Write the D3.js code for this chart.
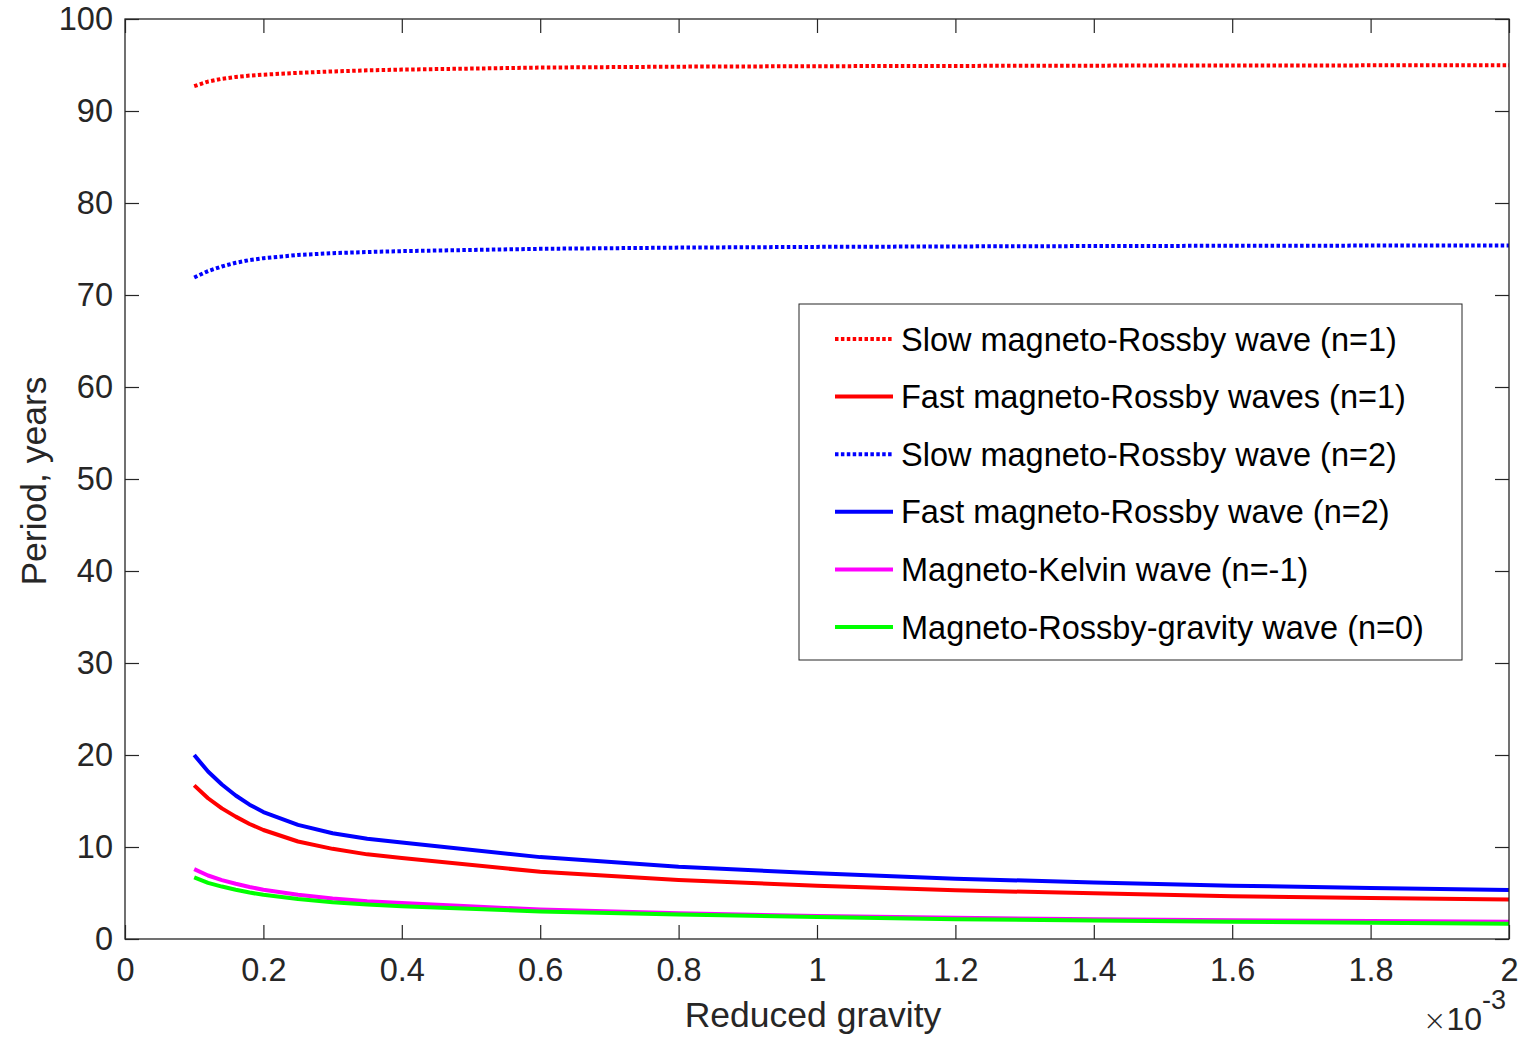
<!DOCTYPE html>
<html>
<head>
<meta charset="utf-8">
<script src="https://cdn.jsdelivr.net/npm/d3@7"></script>
<style>
  body { margin: 0; background: #fff; }
  svg { font-family: "Liberation Sans", Arial, Helvetica, sans-serif; }
</style>
</head>
<body>
<svg id="chart" width="1525" height="1038"></svg>
<script>
// reduced gravity, in units of 1e-3
const gravity = [0.10, 0.12, 0.14, 0.16, 0.18, 0.20, 0.25, 0.30, 0.35, 0.40,
                 0.6, 0.8, 1.0, 1.2, 1.4, 1.6, 1.8, 2.0];
// periods in years
const slowN1 = [92.7, 93.2, 93.5, 93.7, 93.85, 93.95, 94.15, 94.3, 94.42, 94.5,
                94.72, 94.82, 94.87, 94.9, 94.93, 94.95, 94.96, 94.97];
const fastN1 = [16.7, 15.3, 14.2, 13.3, 12.5, 11.85, 10.6, 9.8, 9.2, 8.8,
                7.3, 6.4, 5.8, 5.3, 4.96, 4.65, 4.45, 4.28];
const slowN2 = [71.9, 72.6, 73.1, 73.5, 73.8, 74.0, 74.35, 74.55, 74.67, 74.77,
                75.02, 75.15, 75.23, 75.28, 75.32, 75.35, 75.37, 75.38];
const fastN2 = [20.0, 18.2, 16.8, 15.6, 14.6, 13.8, 12.4, 11.5, 10.9, 10.5,
                8.9, 7.85, 7.15, 6.55, 6.15, 5.8, 5.55, 5.33];
const kelvin = [7.6, 6.9, 6.4, 6.0, 5.65, 5.35, 4.8, 4.4, 4.1, 3.9,
                3.2, 2.8, 2.5, 2.3, 2.15, 2.05, 1.95, 1.88];
const mrg = [6.7, 6.1, 5.7, 5.35, 5.05, 4.8, 4.35, 4.0, 3.75, 3.55,
             3.0, 2.65, 2.4, 2.15, 2.0, 1.88, 1.77, 1.67];

const seriesNames = ["Slow magneto-Rossby wave (n=1)", "Fast magneto-Rossby waves (n=1)",
                     "Slow magneto-Rossby wave (n=2)", "Fast magneto-Rossby wave (n=2)",
                     "Magneto-Kelvin wave (n=-1)", "Magneto-Rossby-gravity wave (n=0)"];
const seriesValues = [slowN1, fastN1, slowN2, fastN2, kelvin, mrg];
const seriesColors = ["#ff0000", "#ff0000", "#0000ff", "#0000ff", "#ff00ff", "#00ff00"];
const seriesDotted = [true, false, true, false, false, false];

const xTicks = [0, 0.2, 0.4, 0.6, 0.8, 1, 1.2, 1.4, 1.6, 1.8, 2];
const yTicks = [0, 10, 20, 30, 40, 50, 60, 70, 80, 90, 100];

const axisColor = "#262626";
const pLeft = 125, pRight = 1509, pTop = 19, pBottom = 939;

const svg = d3.select("#chart");
const x = d3.scaleLinear().domain([0, 2]).range([pLeft, pRight]);
const y = d3.scaleLinear().domain([0, 100]).range([pBottom, pTop]);

// curves
const line = d3.line().x(d => x(d[0])).y(d => y(d[1]));
seriesValues.forEach((vals, i) => {
  svg.append("path")
    .datum(gravity.map((g, j) => [g, vals[j]]))
    .attr("d", line)
    .attr("fill", "none")
    .attr("stroke", seriesColors[i])
    .attr("stroke-width", 4)
    .attr("stroke-linejoin", "round")
    .attr("stroke-dasharray", seriesDotted[i] ? "3.5,2.4" : null);
});

// axes, ticks pointing inward on all four sides
function styleAxis(g) {
  g.select(".domain").remove();
  g.selectAll(".tick line").attr("stroke", axisColor).attr("stroke-width", 1.2);
  g.selectAll(".tick text").attr("fill", axisColor).attr("font-size", 32.5)
    .attr("font-family", "Liberation Sans, Arial, sans-serif");
}
const fmt = d => String(+d.toFixed(1));
svg.append("g").attr("transform", `translate(0,${pBottom})`)
  .call(d3.axisBottom(x).tickValues(xTicks).tickFormat(fmt).tickSizeInner(-14).tickSizeOuter(0).tickPadding(19))
  .call(styleAxis);
svg.append("g").attr("transform", `translate(0,${pTop})`)
  .call(d3.axisTop(x).tickValues(xTicks).tickFormat("").tickSizeInner(-14).tickSizeOuter(0))
  .call(styleAxis);
svg.append("g").attr("transform", `translate(${pLeft},0)`)
  .call(d3.axisLeft(y).tickValues(yTicks).tickSizeInner(-14).tickSizeOuter(0).tickPadding(12))
  .call(styleAxis);
svg.append("g").attr("transform", `translate(${pRight},0)`)
  .call(d3.axisRight(y).tickValues(yTicks).tickFormat("").tickSizeInner(-14).tickSizeOuter(0))
  .call(styleAxis);

svg.append("rect")
  .attr("x", pLeft).attr("y", pTop)
  .attr("width", pRight - pLeft).attr("height", pBottom - pTop)
  .attr("fill", "none").attr("stroke", axisColor).attr("stroke-width", 1.3);

// axis labels
svg.append("text")
  .attr("x", 813).attr("y", 1027)
  .attr("text-anchor", "middle").attr("font-size", 35.5).attr("fill", axisColor)
  .text("Reduced gravity");
svg.append("text")
  .attr("transform", `translate(46,481) rotate(-90)`)
  .attr("text-anchor", "middle").attr("font-size", 35.5).attr("fill", axisColor)
  .text("Period, years");

// exponent marker
const expo = svg.append("text")
  .attr("x", 1423).attr("y", 1030).attr("font-size", 32).attr("fill", axisColor);
expo.append("tspan").attr("font-family", "DejaVu Sans").attr("font-weight", 300).attr("font-size", 28).text("\u00d7");
expo.append("tspan").text("10");
expo.append("tspan").attr("dy", -21).attr("font-size", 27).text("-3");

// legend
const legX = 799, legY = 304, legW = 663, legH = 356, rowH = 57.6;
svg.append("rect")
  .attr("x", legX).attr("y", legY).attr("width", legW).attr("height", legH)
  .attr("fill", "#fff").attr("stroke", axisColor).attr("stroke-width", 1);
seriesNames.forEach((name, i) => {
  const cy = 339 + i * rowH;
  svg.append("line")
    .attr("x1", 835).attr("x2", 893).attr("y1", cy).attr("y2", cy)
    .attr("stroke", seriesColors[i]).attr("stroke-width", 4)
    .attr("stroke-dasharray", seriesDotted[i] ? "3.5,2.4" : null);
  svg.append("text")
    .attr("x", 901).attr("y", cy + 11.5)
    .attr("font-size", 32.5).attr("fill", "#000")
    .text(name);
});
</script>
</body>
</html>
